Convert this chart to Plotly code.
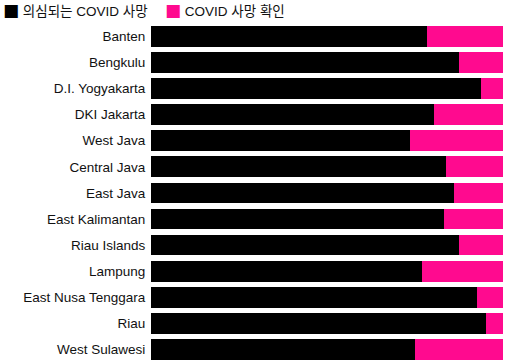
import plotly.graph_objects as go

provinces = ["Banten", "Bengkulu", "D.I. Yogyakarta", "DKI Jakarta", "West Java",
             "Central Java", "East Java", "East Kalimantan", "Riau Islands", "Lampung",
             "East Nusa Tenggara", "Riau", "West Sulawesi"]
suspected_pct = [78.4, 87.5, 93.7, 80.5, 73.6, 83.7, 86.1, 83.2, 87.5, 77.1, 92.7, 95.3, 74.9]
confirmed_pct = [21.6, 12.5, 6.3, 19.5, 26.4, 16.3, 13.9, 16.8, 12.5, 22.9, 7.3, 4.7, 25.1]

series_names = ["의심되는 COVID 사망", "COVID 사망 확인"]
BLACK = "#000000"
PINK = "#ff0a8f"

fig = go.Figure()
fig.add_trace(go.Bar(y=provinces, x=suspected_pct, orientation="h", name=series_names[0],
                     marker=dict(color=BLACK, line=dict(width=0)), hoverinfo="skip"))
fig.add_trace(go.Bar(y=provinces, x=confirmed_pct, orientation="h", name=series_names[1],
                     marker=dict(color=PINK, line=dict(width=0)), hoverinfo="skip"))

PLOT_W = 352.0
PLOT_H = 337.0
L = 151.0
legend_font = "Liberation Sans, Noto Sans CJK KR, sans-serif"
sq = "<span style='font-family:DejaVu Sans;font-size:17px'>■</span>"
fig.add_annotation(xref="paper", yref="paper", x=(1 - L) / PLOT_W, y=1 + 13 / PLOT_H,
                   xanchor="left", yanchor="middle", showarrow=False,
                   text=f"<span style='color:{BLACK}'>{sq}</span> {series_names[0]}",
                   font=dict(family=legend_font, size=13.5, color="#111"))
fig.add_annotation(xref="paper", yref="paper", x=(163 - L) / PLOT_W, y=1 + 13 / PLOT_H,
                   xanchor="left", yanchor="middle", showarrow=False,
                   text=f"<span style='color:{PINK}'>{sq}</span> {series_names[1]}",
                   font=dict(family=legend_font, size=13.5, color="#111"))

fig.update_layout(
    width=506, height=360,
    margin=dict(l=151, r=3, t=23, b=0, autoexpand=False),
    barmode="stack", bargap=0.207,
    paper_bgcolor="white", plot_bgcolor="white",
    font=dict(family="Liberation Sans, Arial, Noto Sans CJK KR, sans-serif", size=13.5, color="#111"),
    showlegend=False,
    xaxis=dict(range=[0, 100], visible=False, fixedrange=True),
    yaxis=dict(type="category", range=[12.40, -0.51], showgrid=False, zeroline=False,
               showline=False, ticks="outside", ticklen=2, tickcolor="rgba(0,0,0,0)",
               automargin=False, tickfont=dict(size=13.5, color="#111"), fixedrange=True),
)

fig.write_html("out.html")
